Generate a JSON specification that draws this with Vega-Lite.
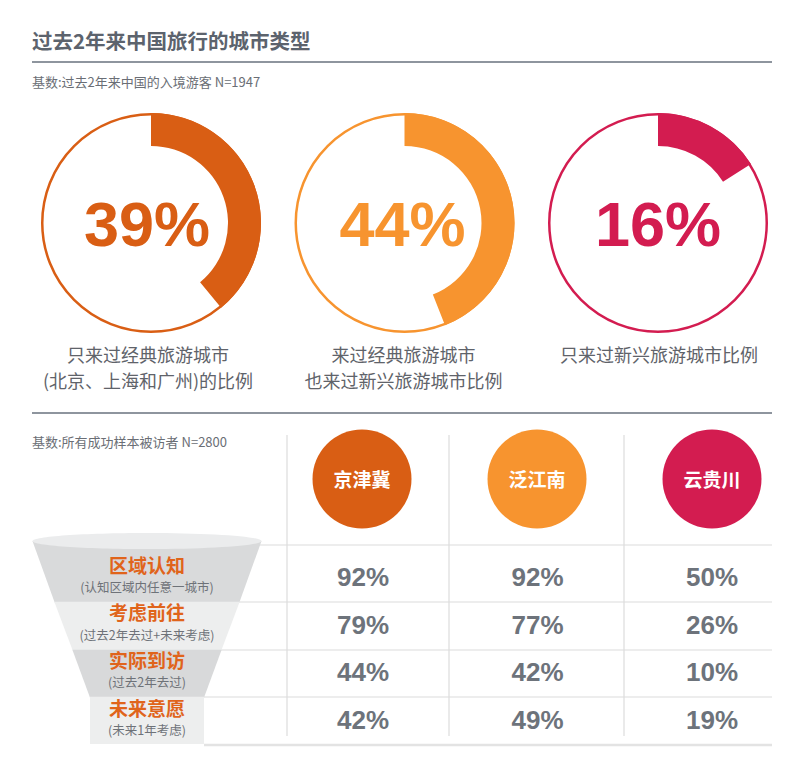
{
  "$schema": "https://vega.github.io/schema/vega-lite/v6.json",
  "width": 800,
  "height": 760,
  "autosize": {"type": "fit", "contains": "padding"},
  "padding": 0,
  "background": "white",
  "config": {"view": {"stroke": null}, "font": "Noto Sans CJK SC"},
  "data": {"values": [{"图层": "版式"}]},
  "datasets": {
    "donuts": [
      {"城市类型": "只来过经典旅游城市\n(北京、上海和广州)的比例", "占比": 0.39},
      {"城市类型": "来过经典旅游城市\n也来过新兴旅游城市比例", "占比": 0.44},
      {"城市类型": "只来过新兴旅游城市比例", "占比": 0.16}
    ],
    "bases": [
      {"部分": "上", "说明": "基数:过去2年来中国的入境游客 N=1947"},
      {"部分": "下", "说明": "基数:所有成功样本被访者 N=2800"}
    ],
    "regions": [
      {"区域": "京津冀"},
      {"区域": "泛江南"},
      {"区域": "云贵川"}
    ],
    "stages": [
      {"阶段": "区域认知", "说明": "(认知区域内任意一城市)"},
      {"阶段": "考虑前往", "说明": "(过去2年去过+未来考虑)"},
      {"阶段": "实际到访", "说明": "(过去2年去过)"},
      {"阶段": "未来意愿", "说明": "(未来1年考虑)"}
    ],
    "values": [
      {"阶段": "区域认知", "区域": "京津冀", "比例": 0.92},
      {"阶段": "区域认知", "区域": "泛江南", "比例": 0.92},
      {"阶段": "区域认知", "区域": "云贵川", "比例": 0.50},
      {"阶段": "考虑前往", "区域": "京津冀", "比例": 0.79},
      {"阶段": "考虑前往", "区域": "泛江南", "比例": 0.77},
      {"阶段": "考虑前往", "区域": "云贵川", "比例": 0.26},
      {"阶段": "实际到访", "区域": "京津冀", "比例": 0.44},
      {"阶段": "实际到访", "区域": "泛江南", "比例": 0.42},
      {"阶段": "实际到访", "区域": "云贵川", "比例": 0.10},
      {"阶段": "未来意愿", "区域": "京津冀", "比例": 0.42},
      {"阶段": "未来意愿", "区域": "泛江南", "比例": 0.49},
      {"阶段": "未来意愿", "区域": "云贵川", "比例": 0.19}
    ]
  },
  "resolve": {"scale": {"x": "independent", "y": "independent", "color": "independent", "shape": "independent", "theta": "independent"}},
  "layer": [
    {
      "data": {"values": [{"标题": "过去2年来中国旅行的城市类型"}]},
      "mark": {"type": "text", "align": "left", "baseline": "middle", "fontSize": 20.5, "fontWeight": "bold", "color": "#5c636d"},
      "encoding": {
        "x": {"datum": 32, "type": "quantitative", "scale": {"domain": [0, 800], "range": [0, 800]}, "axis": null},
        "y": {"datum": 42.5, "type": "quantitative", "scale": {"domain": [0, 760], "range": [0, 760]}, "axis": null},
        "text": {"field": "标题"}
      }
    },
    {
      "data": {"name": "bases"},
      "mark": {"type": "text", "align": "left", "baseline": "middle", "fontSize": 13, "color": "#6a6e75"},
      "encoding": {
        "x": {"datum": 32, "type": "quantitative", "scale": {"domain": [0, 800], "range": [0, 800]}, "axis": null},
        "y": {"field": "部分", "type": "nominal", "sort": null, "scale": {"type": "point", "range": [83, 443], "padding": 0}, "axis": null},
        "text": {"field": "说明"}
      }
    },
    {
      "data": {"values": [{"分隔": "标题下"}, {"分隔": "上下部分之间"}]},
      "mark": {"type": "rule", "color": "#8e959e", "strokeWidth": 2},
      "encoding": {
        "x": {"datum": 32, "type": "quantitative", "scale": {"domain": [0, 800], "range": [0, 800]}, "axis": null},
        "x2": {"datum": 772},
        "y": {"field": "分隔", "type": "nominal", "sort": null, "scale": {"type": "point", "range": [62, 413], "padding": 0}, "axis": null}
      }
    },
    {
      "mark": {"type": "rule", "color": "#dcdcdc", "strokeWidth": 1.2},
      "encoding": {
        "x": {"datum": 255, "type": "quantitative", "scale": {"domain": [0, 800], "range": [0, 800]}, "axis": null},
        "x2": {"datum": 772},
        "y": {"datum": 545, "type": "quantitative", "scale": {"domain": [0, 760], "range": [0, 760]}, "axis": null}
      }
    },
    {
      "mark": {"type": "rule", "color": "#dcdcdc", "strokeWidth": 1.2},
      "encoding": {
        "x": {"datum": 200, "type": "quantitative", "scale": {"domain": [0, 800], "range": [0, 800]}, "axis": null},
        "x2": {"datum": 772},
        "y": {"datum": 602, "type": "quantitative", "scale": {"domain": [0, 760], "range": [0, 760]}, "axis": null}
      }
    },
    {
      "mark": {"type": "rule", "color": "#dcdcdc", "strokeWidth": 1.2},
      "encoding": {
        "x": {"datum": 200, "type": "quantitative", "scale": {"domain": [0, 800], "range": [0, 800]}, "axis": null},
        "x2": {"datum": 772},
        "y": {"datum": 650, "type": "quantitative", "scale": {"domain": [0, 760], "range": [0, 760]}, "axis": null}
      }
    },
    {
      "mark": {"type": "rule", "color": "#dcdcdc", "strokeWidth": 1.2},
      "encoding": {
        "x": {"datum": 200, "type": "quantitative", "scale": {"domain": [0, 800], "range": [0, 800]}, "axis": null},
        "x2": {"datum": 772},
        "y": {"datum": 697, "type": "quantitative", "scale": {"domain": [0, 760], "range": [0, 760]}, "axis": null}
      }
    },
    {
      "mark": {"type": "rule", "color": "#e3e3e3", "strokeWidth": 2.5},
      "encoding": {
        "x": {"datum": 204, "type": "quantitative", "scale": {"domain": [0, 800], "range": [0, 800]}, "axis": null},
        "x2": {"datum": 772},
        "y": {"datum": 745, "type": "quantitative", "scale": {"domain": [0, 760], "range": [0, 760]}, "axis": null}
      }
    },
    {
      "mark": {"type": "rule", "color": "#dcdcdc", "strokeWidth": 1.2},
      "encoding": {
        "x": {"datum": 287, "type": "quantitative", "scale": {"domain": [0, 800], "range": [0, 800]}, "axis": null},
        "y": {"datum": 435, "type": "quantitative", "scale": {"domain": [0, 760], "range": [0, 760]}, "axis": null},
        "y2": {"datum": 736}
      }
    },
    {
      "mark": {"type": "rule", "color": "#dcdcdc", "strokeWidth": 1.2},
      "encoding": {
        "x": {"datum": 449, "type": "quantitative", "scale": {"domain": [0, 800], "range": [0, 800]}, "axis": null},
        "y": {"datum": 435, "type": "quantitative", "scale": {"domain": [0, 760], "range": [0, 760]}, "axis": null},
        "y2": {"datum": 736}
      }
    },
    {
      "mark": {"type": "rule", "color": "#dcdcdc", "strokeWidth": 1.2},
      "encoding": {
        "x": {"datum": 624, "type": "quantitative", "scale": {"domain": [0, 800], "range": [0, 800]}, "axis": null},
        "y": {"datum": 435, "type": "quantitative", "scale": {"domain": [0, 760], "range": [0, 760]}, "axis": null},
        "y2": {"datum": 736}
      }
    },
    {
      "data": {"name": "donuts"},
      "mark": {"type": "point", "shape": "circle", "filled": false, "size": 47306, "strokeWidth": 2.5, "opacity": 1},
      "encoding": {
        "x": {"field": "城市类型", "type": "nominal", "sort": null, "scale": {"type": "point", "range": [151, 658], "padding": 0}, "axis": null},
        "y": {"datum": 223, "type": "quantitative", "scale": {"domain": [0, 760], "range": [0, 760]}, "axis": null},
        "color": {"field": "城市类型", "type": "nominal", "sort": null, "scale": {"range": ["#D95E14", "#F7942F", "#D31C50"]}, "legend": null}
      }
    },
    {
      "data": {"name": "donuts"},
      "mark": {"type": "arc", "radius": 110, "radius2": 77},
      "encoding": {
        "x": {"field": "城市类型", "type": "nominal", "sort": null, "scale": {"type": "point", "range": [151, 658], "padding": 0}, "axis": null},
        "y": {"datum": 223, "type": "quantitative", "scale": {"domain": [0, 760], "range": [0, 760]}, "axis": null},
        "theta": {"field": "占比", "type": "quantitative", "stack": null, "scale": {"type": "linear", "domain": [0, 1], "range": [0, 6.283185]}},
        "theta2": {"datum": 0},
        "color": {"field": "城市类型", "type": "nominal", "sort": null, "scale": {"range": ["#D95E14", "#F7942F", "#D31C50"]}, "legend": null}
      }
    },
    {
      "data": {"name": "donuts"},
      "mark": {"type": "text", "align": "center", "baseline": "middle", "font": "Liberation Sans", "fontSize": 63, "fontWeight": "bold", "dy": 4},
      "encoding": {
        "x": {"field": "城市类型", "type": "nominal", "sort": null, "scale": {"type": "point", "range": [147, 658], "padding": 0}, "axis": null},
        "y": {"datum": 223, "type": "quantitative", "scale": {"domain": [0, 760], "range": [0, 760]}, "axis": null},
        "text": {"field": "占比", "type": "quantitative", "format": ".0%"},
        "color": {"field": "城市类型", "type": "nominal", "sort": null, "scale": {"range": ["#D95E14", "#F7942F", "#D31C50"]}, "legend": null}
      }
    },
    {
      "data": {"name": "donuts"},
      "mark": {"type": "text", "align": "center", "baseline": "top", "fontSize": 18, "lineHeight": 26, "lineBreak": "\n", "color": "#5f636a"},
      "encoding": {
        "x": {"field": "城市类型", "type": "nominal", "sort": null, "scale": {"type": "point", "range": [148, 659], "padding": 0}, "axis": null},
        "y": {"datum": 348, "type": "quantitative", "scale": {"domain": [0, 760], "range": [0, 760]}, "axis": null},
        "text": {"field": "城市类型"}
      }
    },
    {
      "data": {"name": "regions"},
      "mark": {"type": "point", "shape": "circle", "filled": true, "size": 9801, "strokeWidth": 0, "opacity": 1},
      "encoding": {
        "x": {"field": "区域", "type": "nominal", "sort": null, "scale": {"type": "point", "range": [362, 712], "padding": 0}, "axis": null},
        "y": {"datum": 479, "type": "quantitative", "scale": {"domain": [0, 760], "range": [0, 760]}, "axis": null},
        "color": {"field": "区域", "type": "nominal", "sort": null, "scale": {"range": ["#D95E14", "#F7942F", "#D31C50"]}, "legend": null}
      }
    },
    {
      "data": {"name": "regions"},
      "mark": {"type": "text", "align": "center", "baseline": "middle", "fontSize": 19, "fontWeight": "bold", "color": "white", "dy": 1.5},
      "encoding": {
        "x": {"field": "区域", "type": "nominal", "sort": null, "scale": {"type": "point", "range": [362, 712], "padding": 0}, "axis": null},
        "y": {"datum": 479, "type": "quantitative", "scale": {"domain": [0, 760], "range": [0, 760]}, "axis": null},
        "text": {"field": "区域"}
      }
    },
    {
      "data": {"name": "stages"},
      "mark": {"type": "point", "filled": true, "size": 52900, "strokeWidth": 0, "opacity": 1},
      "encoding": {
        "x": {"datum": 147, "type": "quantitative", "scale": {"domain": [0, 800], "range": [0, 800]}, "axis": null},
        "y": {"datum": 640, "type": "quantitative", "scale": {"domain": [0, 760], "range": [0, 760]}, "axis": null},
        "shape": {"field": "阶段", "type": "nominal", "sort": null, "legend": null, "scale": {"range": [
          "M -0.996 -0.861 L 0.996 -0.861 L 0.803 -0.326 L -0.803 -0.326 Z",
          "M -0.806 -0.333 L 0.806 -0.333 L 0.647 0.090 L -0.647 0.090 Z",
          "M -0.649 0.084 L 0.649 0.084 L 0.496 0.499 L -0.496 0.499 Z",
          "M -0.496 0.493 L 0.496 0.493 L 0.496 0.904 L -0.496 0.904 Z"
        ]}},
        "color": {"field": "阶段", "type": "nominal", "sort": null, "legend": null, "scale": {"range": ["#d9dadb", "#edeeee", "#d8d9da", "#edeeee"]}}
      }
    },
    {
      "data": {"values": [{"部件": "漏斗口"}]},
      "mark": {"type": "point", "filled": true, "size": 52900, "strokeWidth": 0, "opacity": 1, "color": "#ebeced",
        "shape": "M -0.996 -0.861 C -0.996 -0.900 -0.550 -0.931 0 -0.931 C 0.550 -0.931 0.996 -0.900 0.996 -0.861 C 0.996 -0.822 0.550 -0.791 0 -0.791 C -0.550 -0.791 -0.996 -0.822 -0.996 -0.861 Z"},
      "encoding": {
        "x": {"datum": 147, "type": "quantitative", "scale": {"domain": [0, 800], "range": [0, 800]}, "axis": null},
        "y": {"datum": 640, "type": "quantitative", "scale": {"domain": [0, 760], "range": [0, 760]}, "axis": null}
      }
    },
    {
      "data": {"name": "stages"},
      "mark": {"type": "text", "align": "center", "baseline": "middle", "fontSize": 19, "fontWeight": "bold", "color": "#E0641B", "dy": -11.5},
      "encoding": {
        "x": {"datum": 147, "type": "quantitative", "scale": {"domain": [0, 800], "range": [0, 800]}, "axis": null},
        "y": {"field": "阶段", "type": "nominal", "sort": null, "scale": {"type": "point", "range": [578, 721], "padding": 0}, "axis": null},
        "text": {"field": "阶段"}
      }
    },
    {
      "data": {"name": "stages"},
      "mark": {"type": "text", "align": "center", "baseline": "middle", "fontSize": 12.5, "color": "#6e7278", "dy": 10},
      "encoding": {
        "x": {"datum": 147, "type": "quantitative", "scale": {"domain": [0, 800], "range": [0, 800]}, "axis": null},
        "y": {"field": "阶段", "type": "nominal", "sort": null, "scale": {"type": "point", "range": [578, 721], "padding": 0}, "axis": null},
        "text": {"field": "说明"}
      }
    },
    {
      "data": {"name": "values"},
      "mark": {"type": "text", "align": "center", "baseline": "middle", "font": "Liberation Sans", "fontSize": 26, "fontWeight": "bold", "color": "#6d737b"},
      "encoding": {
        "x": {"field": "区域", "type": "nominal", "sort": null, "scale": {"type": "point", "range": [363, 712], "padding": 0}, "axis": null},
        "y": {"field": "阶段", "type": "nominal", "sort": null, "scale": {"type": "point", "range": [578, 721], "padding": 0}, "axis": null},
        "text": {"field": "比例", "type": "quantitative", "format": ".0%"}
      }
    }
  ]
}
